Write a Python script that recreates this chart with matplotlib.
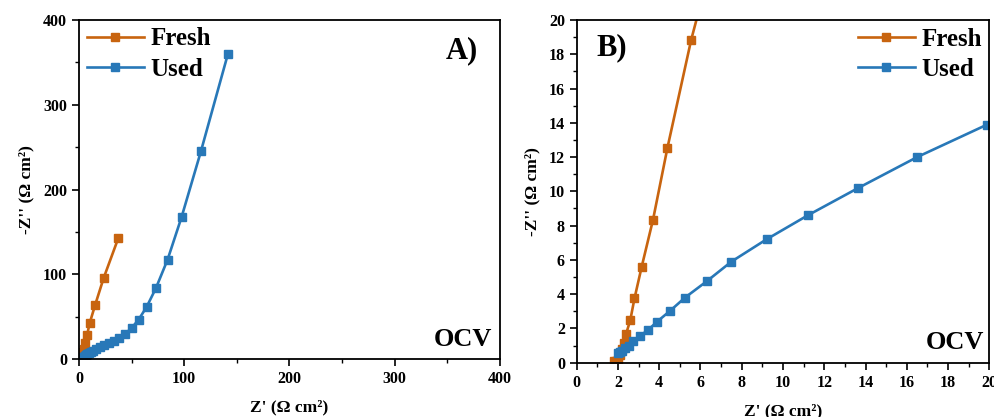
import numpy as np
import matplotlib
matplotlib.use("Agg")
import matplotlib.pyplot as plt
from matplotlib.ticker import MultipleLocator

plt.rcParams['font.family'] = ['Liberation Serif', 'DejaVu Serif']
plt.rcParams['font.weight'] = 'bold'

# Nyquist data, Z' and -Z'' in ohm cm2
fresh_x = [1.8, 1.9, 2.0, 2.1, 2.2, 2.3, 2.4, 2.6, 2.8, 3.15, 3.7, 4.4, 5.55,
           7.6, 10.1, 15.2, 23.4, 37.3]
fresh_y = [0.1, 0.1, 0.15, 0.45, 0.8, 1.15, 1.7, 2.5, 3.75, 5.6, 8.35, 12.55, 18.85,
           28.2, 42.4, 63.5, 95.7, 142.7]

used_x = [2.0, 2.1, 2.2, 2.35, 2.55, 2.75, 3.05, 3.45, 3.9, 4.5, 5.25, 6.3, 7.5,
          9.2, 11.2, 13.65, 16.5, 19.9, 24.0, 28.5, 33.0, 38.3, 43.7, 50.0, 56.6,
          64.2, 73.1, 84.2, 97.5, 115.8, 141.5]
used_y = [0.55, 0.6, 0.7, 0.85, 1.0, 1.25, 1.55, 1.9, 2.4, 3.0, 3.8, 4.75, 5.9,
          7.2, 8.6, 10.2, 12.0, 13.9, 16.4, 18.9, 21.5, 25.0, 29.8, 36.9, 46.7,
          61.6, 83.9, 117.6, 167.8, 245.0, 360.0]

c_fresh = '#C8640F'
c_used = '#2878B8'

fig = plt.figure(figsize=(9.95, 4.17), dpi=100)
axA = fig.add_axes([0.0794, 0.1384, 0.4231, 0.8137])
axB = fig.add_axes([0.5796, 0.1302, 0.4147, 0.8218])

def draw(ax, lim, major, minor, loc, tag, tagpos, ocvx):
    ax.plot(fresh_x, fresh_y, '-s', color=c_fresh, lw=1.9, ms=6.3, label='Fresh')
    ax.plot(used_x, used_y, '-s', color=c_used, lw=1.9, ms=6.3, label='Used')
    ax.set_xlim(0, lim)
    ax.set_ylim(0, lim)
    for a in (ax.xaxis, ax.yaxis):
        a.set_major_locator(MultipleLocator(major))
        a.set_minor_locator(MultipleLocator(minor))
    ax.tick_params(which='major', direction='out', length=5, width=1.2, labelsize=11.5)
    ax.tick_params(which='minor', direction='out', length=3, width=1.0)
    for s in ax.spines.values():
        s.set_linewidth(1.3)
    for lab in ax.get_xticklabels() + ax.get_yticklabels():
        lab.set_fontweight('bold')
    ax.set_xlabel("Z' (Ω cm²)", fontsize=12.5, fontweight='bold', labelpad=9)
    ax.set_ylabel("-Z'' (Ω cm²)", fontsize=12.5, fontweight='bold', labelpad=6)
    ax.legend(loc=loc, frameon=False, prop={'size': 18, 'weight': 'bold'},
              handlelength=2.3, handletextpad=0.25, labelspacing=0.3,
              borderaxespad=0.0, borderpad=0.3)
    ax.text(tagpos[0], tagpos[1], tag, transform=ax.transAxes, fontsize=22,
            fontweight='bold', ha='center', va='center')
    ax.text(ocvx, 0.058, 'OCV', transform=ax.transAxes, fontsize=19,
            fontweight='bold', ha='right', va='center')

draw(axA, 400, 100, 50, 'upper left', 'A)', (0.91, 0.91), 0.982)
draw(axB, 20, 2, 1, 'upper right', 'B)', (0.085, 0.918), 0.988)

fig.savefig('out.png', dpi=100)
